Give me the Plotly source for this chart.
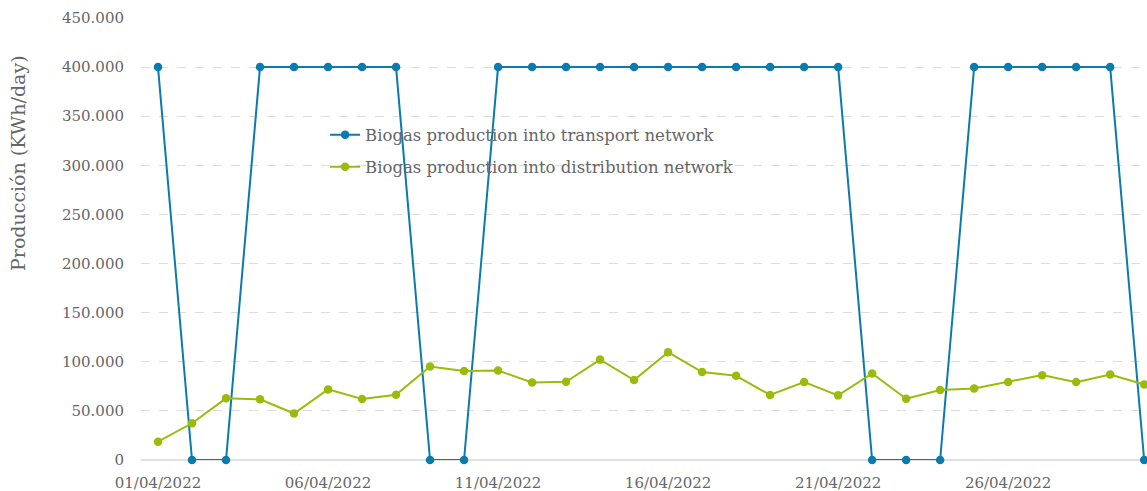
import plotly.graph_objects as go
import pandas as pd

dates = pd.date_range("2022-04-01", "2022-04-30", freq="D")
transport = [400000, 0, 0, 400000, 400000, 400000, 400000, 400000, 0, 0,
             400000, 400000, 400000, 400000, 400000, 400000, 400000, 400000, 400000, 400000,
             400000, 0, 0, 0, 400000, 400000, 400000, 400000, 400000, 0]
distribution = [18600, 37400, 62800, 61800, 47300, 71900, 62100, 66500, 95200, 90500,
                91100, 79000, 79700, 102200, 81400, 109700, 89500, 85700, 66200, 79300,
                65800, 88100, 62400, 71200, 72900, 79300, 86400, 79300, 87000, 76900]
tick_dates = ["2022-04-01", "2022-04-06", "2022-04-11", "2022-04-16", "2022-04-21", "2022-04-26"]
tick_labels = ["01/04/2022", "06/04/2022", "11/04/2022", "16/04/2022", "21/04/2022", "26/04/2022"]
y_ticks = [0, 50000, 100000, 150000, 200000, 250000, 300000, 350000, 400000, 450000]
y_labels = ["0", "50.000", "100.000", "150.000", "200.000", "250.000", "300.000", "350.000", "400.000", "450.000"]

BLUE = "#0a7bad"
GREEN = "#9bbb0c"
GREY = "#666666"
FONT = "DejaVu Serif"

fig = go.Figure()
fig.add_trace(go.Scatter(x=dates, y=transport, mode="lines+markers",
                         name="Biogas production into transport network",
                         line=dict(color=BLUE, width=2), marker=dict(size=8.5, color=BLUE),
                         cliponaxis=False, legend="legend"))
fig.add_trace(go.Scatter(x=dates, y=distribution, mode="lines+markers",
                         name="Biogas production into distribution network",
                         line=dict(color=GREEN, width=2), marker=dict(size=8.5, color=GREEN),
                         cliponaxis=False, legend="legend2"))

legend_common = dict(xanchor="left", yanchor="middle", bgcolor="rgba(0,0,0,0)",
                     font=dict(size=16.5, color=GREY), itemwidth=30)
fig.update_layout(
    width=1147, height=491,
    margin=dict(l=141, r=0, t=18, b=31),
    paper_bgcolor="white", plot_bgcolor="white",
    font=dict(family=FONT, size=14, color=GREY),
    showlegend=True,
    legend=dict(x=0.183, y=0.735, **legend_common),
    legend2=dict(x=0.183, y=0.663, **legend_common),
    annotations=[dict(text="Producción (KWh/day)", textangle=-90, xref="paper", yref="paper",
                      x=-0.1223, y=0.672, xanchor="center", yanchor="middle", showarrow=False,
                      font=dict(size=19, color=GREY, family=FONT))],
)
fig.update_xaxes(
    type="date", automargin=False,
    range=[pd.Timestamp("2022-04-01") - pd.Timedelta(hours=12),
           pd.Timestamp("2022-04-30") + pd.Timedelta(hours=2)],
    tickvals=pd.to_datetime(tick_dates), ticktext=tick_labels,
    showgrid=False, zeroline=False, showline=False, ticks="",
    ticklabelstandoff=12,
    tickfont=dict(size=15, color=GREY),
)
fig.update_yaxes(
    range=[0, 450000], tickvals=y_ticks, ticktext=y_labels, automargin=False,
    showgrid=True, gridcolor="#dddddd", griddash="dash", gridwidth=1,
    zeroline=True, zerolinecolor="#e0e0e0", zerolinewidth=2,
    showline=False, ticks="", ticklabelstandoff=16,
    tickfont=dict(size=15, color=GREY),
)

fig.write_html("out.html", config={"displayModeBar": False},
               post_script="document.body.style.margin='0';document.body.style.padding='0';document.body.style.overflow='hidden';")
